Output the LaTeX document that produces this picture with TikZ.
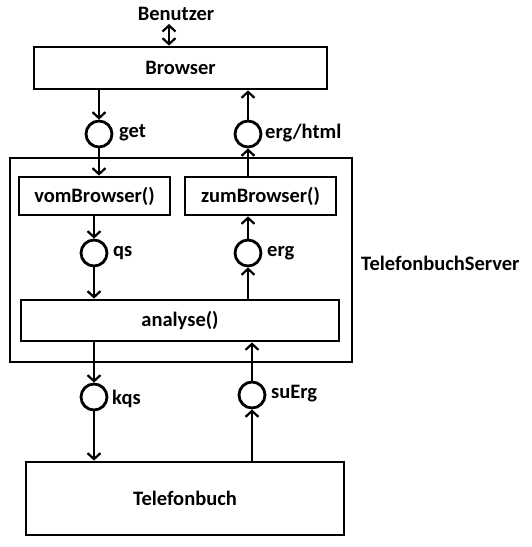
\documentclass[tikz,border=0pt]{standalone}
\usepackage{fontspec}
\setmainfont{Carlito}
\usetikzlibrary{arrows.meta}
\begin{document}
\begin{tikzpicture}[x=1pt,y=-1pt,
  every node/.style={font=\fontsize{20.5}{22}\selectfont\bfseries, inner sep=0pt},
  box/.style={draw, line width=2.8pt, rectangle},
  port/.style={draw, circle, line width=2.8pt, minimum size=26pt},
  lbl/.style={anchor=west},
  conn/.style={line width=2.8pt, -{Straight Barb[length=6pt,width=13pt,line width=2.2pt]}},
  dconn/.style={line width=2.8pt, {Straight Barb[length=6pt,width=13pt,line width=2.2pt]}-{Straight Barb[length=6pt,width=13pt,line width=2.2pt]}}]
\useasboundingbox[fill=white] (0,0) rectangle (532,547);
% boxes
\node[box, minimum width=293pt, minimum height=42pt] (browser) at (180.5,68) {Browser};
\node[box, minimum width=342pt, minimum height=204pt] (server) at (181,260) {};
\node[box, minimum width=151pt, minimum height=38pt] (vom) at (94.5,196) {vomBrowser()};
\node[box, minimum width=151pt, minimum height=38pt] (zum) at (260.5,196) {zumBrowser()};
\node[box, minimum width=318pt, minimum height=41pt] (ana) at (180,320.5) {analyse()};
\node[box, minimum width=318pt, minimum height=73pt] (tel) at (185,498.5) {Telefonbuch};
% labels
\node (benutzer) at (176,14) {Benutzer};
\node[lbl] (serverlbl) at (361,263) {TelefonbuchServer};
\coordinate (ben) at (169,24);
% ports
\node[port] (get) at (99,134) {};
\node[lbl] at (119,133) {get};
\node[port] (html) at (248,134) {};
\node[lbl] at (265,133) {erg/html};
\node[port] (qs) at (94,253) {};
\node[lbl] at (113,253) {qs};
\node[port] (erg) at (248,253) {};
\node[lbl] at (267,253) {erg};
\node[port] (kqs) at (94,397) {};
\node[lbl] at (112,399) {kqs};
\node[port] (su) at (252,395) {};
\node[lbl] at (271,394) {suErg};
% connectors
\draw[dconn] (ben) -- (ben |- browser.north);
\draw[conn] (get.north |- browser.south) -- (get.north);
\draw[conn] (get.south) -- (get.south |- vom.north);
\draw[conn] (html.north) -- (html.north |- browser.south);
\draw[conn] (html.south |- zum.north) -- (html.south);
\draw[conn] (qs.north |- vom.south) -- (qs.north);
\draw[conn] (qs.south) -- (qs.south |- ana.north);
\draw[conn] (erg.south |- ana.north) -- (erg.south);
\draw[conn] (erg.north) -- (erg.north |- zum.south);
\draw[conn] (kqs.north |- ana.south) -- (kqs.north);
\draw[conn] (kqs.south) -- (kqs.south |- tel.north);
\draw[conn] (su.south |- tel.north) -- (su.south);
\draw[conn] (su.north) -- (su.north |- ana.south);
\end{tikzpicture}
\end{document}
